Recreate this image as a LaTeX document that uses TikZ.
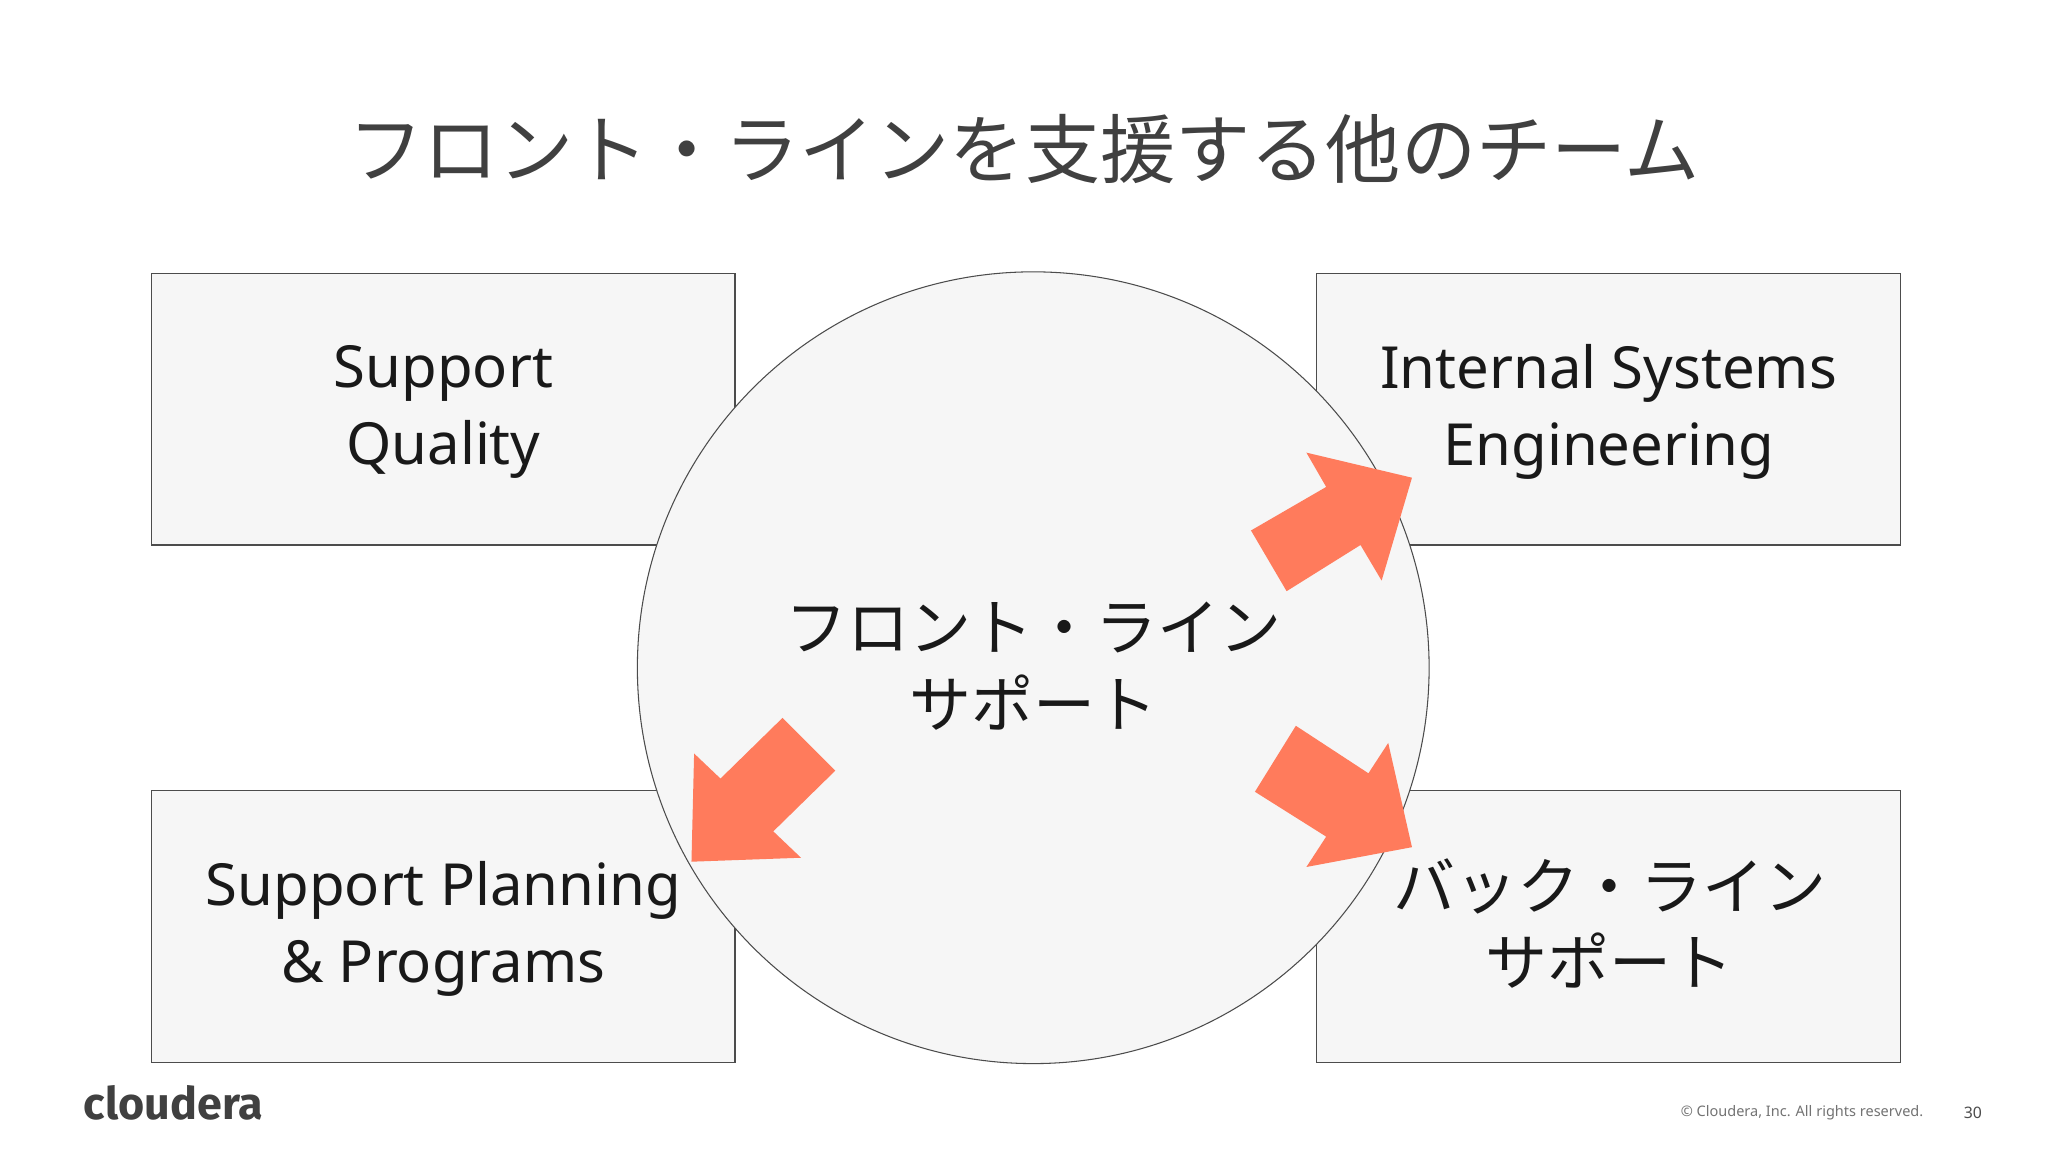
\documentclass[tikz,border=0pt]{standalone}
\usepackage{fontspec}
\setmainfont{Noto Sans}
\newfontfamily\cjk{Noto Sans CJK JP}
\newfontfamily\logofont{Fira Sans}
\begin{document}
\begin{tikzpicture}[x=1pt,y=-1pt,
  box/.style={draw=black!70,line width=0.8pt,fill=gray!7},
  lbl/.style={align=center,text=black!90,font=\fontsize{44}{58}\selectfont},
  jlbl/.style={align=center,text=black!90,font=\cjk\fontsize{47}{58}\selectfont}]
\definecolor{arrc}{HTML}{FF7B5C}
\useasboundingbox (0,0) rectangle (1552,873);
\fill[white] (0,0) rectangle (1552,873);
\node[text=black!75,font=\cjk\fontsize{57}{62}\selectfont] (title) at (776,113) {フロント・ラインを支援する他のチーム};
\draw[box] (115,207) rectangle (557,413);
\draw[box] (998,207) rectangle (1440,413);
\draw[box] (115,599) rectangle (557,805);
\draw[box] (998,599) rectangle (1440,805);
\draw[box] (783,506) circle[radius=300];
\node[lbl] (sq) at (336,312) {Support\\Quality};
\node[lbl] (ise) at (1219,312) {Internal Systems\\Engineering};
\node[lbl] (spp) at (336,704) {Support Planning\\\& Programs};
\node[jlbl] (bls) at (1220,700) {バック・ライン\\サポート};
\node[jlbl] (fls) at (783,505) {フロント・ライン\\サポート};
\fill[arrc] (948,402) -- (1005,369) -- (990,343) -- (1070,362) -- (1047,440) -- (1031,413) -- (975,448) -- cycle;
\fill[arrc] (593,544) -- (546,590) -- (526,571) -- (524,653) -- (607,650) -- (586,630) -- (633,584) -- cycle;
\fill[arrc] (982,550) -- (1037,586) -- (1052,563) -- (1070,642) -- (990,657) -- (1005,634) -- (951,600) -- cycle;
\node[anchor=west,text=black!75,font=\logofont\bfseries\fontsize{34}{40}\selectfont] (logo) at (60,836) {cloudera};
\node[anchor=east,text=black!55,font=\fontsize{11}{13}\selectfont] (copy) at (1461,843) {© Cloudera, Inc. All rights reserved.};
\node[text=black!70,font=\fontsize{12}{14}\selectfont] (pg) at (1495,843) {30};
\end{tikzpicture}
\end{document}
